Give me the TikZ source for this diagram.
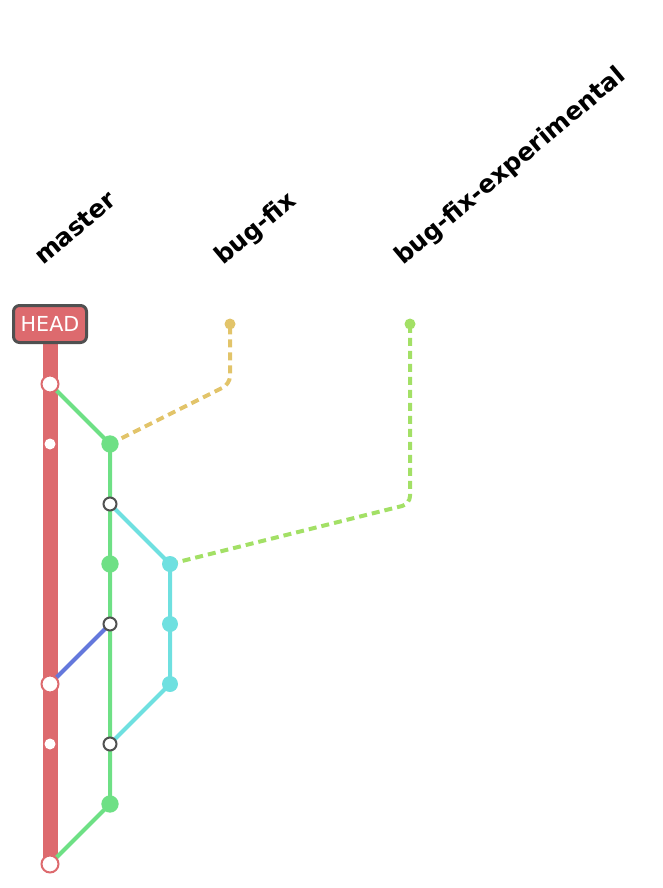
\documentclass[tikz,border=0pt]{standalone}
\usepackage{fontspec}
\setmainfont{DejaVu Sans}
\usetikzlibrary{backgrounds}
\definecolor{mred}{RGB}{221,106,110}
\definecolor{mgreen}{RGB}{110,224,133}
\definecolor{mcyan}{RGB}{111,224,224}
\definecolor{mblue}{RGB}{100,120,220}
\definecolor{myellow}{RGB}{226,196,106}
\definecolor{mlime}{RGB}{163,224,102}
\definecolor{mgrey}{RGB}{80,80,80}
\tikzset{
  bigm/.style={circle,fill=white,draw=mred,line width=1.5pt,minimum size=12.75pt,inner sep=0pt},
  smallm/.style={circle,fill=white,minimum size=8.25pt,inner sep=0pt},
  gdot/.style={circle,fill=mgreen,minimum size=13pt,inner sep=0pt},
  cdot/.style={circle,fill=mcyan,minimum size=12pt,inner sep=0pt},
  odot/.style={circle,fill=white,draw=mgrey,line width=1.5pt,minimum size=9.75pt,inner sep=0pt},
  tipdot/.style={circle,minimum size=8.25pt,inner sep=0pt},
  conn/.style={line width=3pt},
  dconn/.style={line width=3pt,dash pattern=on 6pt off 3.75pt,rounded corners=6pt},
  blabel/.style={font=\bfseries\fontsize{18.5pt}{21pt}\selectfont,rotate=40,anchor=base west,inner sep=0pt}
}
\begin{document}
\begin{tikzpicture}[x=0.75pt,y=-0.75pt]
\useasboundingbox (0,0) rectangle (662,888);
% labels
\node[blabel] (lmaster) at (43,266) {master};
\node[blabel] (lbug) at (223,266) {bug-fix};
\node[blabel] (lexp) at (403,266) {bug-fix-experimental};
% HEAD
\node[fill=mred,draw=mgrey,line width=2.25pt,rounded corners=4.5pt,minimum width=54.75pt,minimum height=27.75pt,inner sep=0pt,text=white,font=\fontsize{15.5pt}{17pt}\selectfont] (head) at (50,324) {HEAD};
% master nodes
\node[bigm] (m1) at (50,384) {};
\node[smallm] (m2) at (50,444) {};
\node[bigm] (m3) at (50,684) {};
\node[smallm] (m4) at (50,744) {};
\node[bigm] (m5) at (50,864) {};
% bug-fix nodes
\node[gdot] (b1) at (110,444) {};
\node[odot] (b2) at (110,504) {};
\node[gdot] (b3) at (110,564) {};
\node[odot] (b4) at (110,624) {};
\node[odot] (b5) at (110,744) {};
\node[gdot] (b6) at (110,804) {};
% experimental nodes
\node[cdot] (c1) at (170,564) {};
\node[cdot] (c2) at (170,624) {};
\node[cdot] (c3) at (170,684) {};
% branch tips
\node[tipdot,fill=myellow] (t1) at (230,324) {};
\node[tipdot,fill=mlime] (t2) at (410,324) {};
\coordinate (k1) at (230,384);
\coordinate (k2) at (410,504);
\begin{pgfonlayer}{background}
\draw[mred,line width=11.25pt] (head.center) -- (m5.center);
\draw[conn,mgreen] (m1.center) -- (b1.center) -- (b6.center) -- (m5.center);
\draw[conn,mcyan] (b2.center) -- (c1.center) -- (c3.center) -- (b5.center);
\draw[conn,mblue] (b4.center) -- (m3.center);
\draw[dconn,myellow] (b1.center) -- (k1) -- (t1.center);
\draw[dconn,mlime] (c1.center) -- (k2) -- (t2.center);
\end{pgfonlayer}
\end{tikzpicture}
\end{document}
